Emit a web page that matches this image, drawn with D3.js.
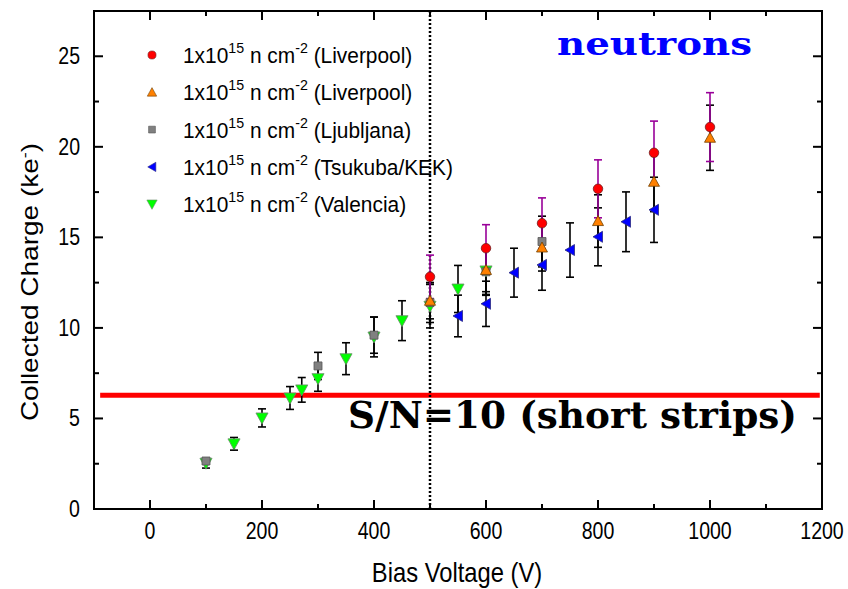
<!DOCTYPE html>
<html>
<head>
<meta charset="utf-8">
<script src="https://cdn.jsdelivr.net/npm/d3@7"></script>
<style>
  body { margin: 0; background: #fff; }
  svg { display: block; }
</style>
</head>
<body>
<div id="chart"></div>
<script>
// data
const livCircleV = [500, 600, 700, 800, 900, 1000]
const livCircleQ = [12.82, 14.4, 15.78, 17.68, 19.67, 21.09]
const livCircleE = [1.2, 1.3, 1.4, 1.6, 1.75, 1.9]

const livTriV = [500, 600, 700, 800, 900, 1000]
const livTriQ = [11.5, 13.2, 14.44, 15.9, 18.07, 20.5]
const livTriE = [1.0, 1.2, 1.3, 1.45, 1.65, 1.8]

const ljuV = [100, 300, 400, 500, 600, 700]
const ljuQ = [2.65, 7.9, 9.6, 11.4, 13.1, 14.77]
const ljuE = [0.15, 0.75, 1.0, 1.1, 1.3, 1.4]

const tsuV = [550, 600, 650, 700, 750, 800, 850, 900]
const tsuQ = [10.66, 11.33, 13.05, 13.48, 14.3, 15.03, 15.86, 16.52]
const tsuE = [1.15, 1.25, 1.35, 1.4, 1.5, 1.6, 1.65, 1.8]

const valV = [100, 150, 200, 250, 271, 300, 350, 400, 450, 500, 550, 600]
const valQ = [2.53, 3.6, 5.03, 6.13, 6.58, 7.2, 8.3, 9.5, 10.4, 11.2, 12.15, 13.15]
const valE = [0.27, 0.35, 0.5, 0.63, 0.68, 0.7, 0.88, 1.1, 1.1, 1.2, 1.3, 1.3]

const legendNames = ['Liverpool', 'Liverpool', 'Ljubljana', 'Tsukuba/KEK', 'Valencia']
const xTicks = [0, 200, 400, 600, 800, 1000, 1200]
const yTicks = [0, 5, 10, 15, 20, 25]
const snLevel = 6.28
const depletionV = 500

const W = 848, H = 589
const margin = { top: 11, right: 26, bottom: 80, left: 94 }
const wdt = W - margin.left - margin.right,
  ht = H - margin.top - margin.bottom

const x = d3.scaleLinear().domain([-100, 1200]).range([0, wdt])
const y = d3.scaleLinear().domain([0, 27.5]).range([ht, 0])

const svg = d3.select('#chart')
  .append('svg')
  .attr('width', W)
  .attr('height', H)

const g = svg.append('g')
  .attr('transform', `translate(${margin.left}, ${margin.top})`)

// marker shapes
function marker(shape, s) {
  if (shape === 'circle') return d3.symbol(d3.symbolCircle, Math.PI * s * s / 4)()
  if (shape === 'square') return `M${-s / 2},${-s / 2}h${s}v${s}h${-s}Z`
  if (shape === 'up') return `M0,${-s * 0.55}L${s * 0.55},${s * 0.45}L${-s * 0.55},${s * 0.45}Z`
  if (shape === 'down') return `M0,${s * 0.55}L${s * 0.55},${-s * 0.45}L${-s * 0.55},${-s * 0.45}Z`
  if (shape === 'left') return `M${-s * 0.5},0L${s * 0.45},${-s * 0.55}L${s * 0.45},${s * 0.55}Z`
}

const series = [
  { v: valV, q: valQ, e: valE, shape: 'down', fill: '#00ff00', stroke: '#6a8a6a', bar: '#000', size: 11 },
  { v: ljuV, q: ljuQ, e: ljuE, shape: 'square', fill: '#808080', stroke: '#555', bar: '#000', size: 8 },
  { v: tsuV, q: tsuQ, e: tsuE, shape: 'left', fill: '#0000ff', stroke: '#2a2a80', bar: '#000', size: 10 },
  { v: livTriV, q: livTriQ, e: livTriE, shape: 'up', fill: '#ff8000', stroke: '#704000', bar: '#000', size: 10 },
  { v: livCircleV, q: livCircleQ, e: livCircleE, shape: 'circle', fill: '#ff0000', stroke: '#702020', bar: '#990099', size: 9.5 }
]

// S/N = 10 line and depletion line
g.append('line')
  .attr('x1', x(-89)).attr('x2', x(1196))
  .attr('y1', y(snLevel)).attr('y2', y(snLevel))
  .attr('stroke', '#ff0000')
  .attr('stroke-width', 5)

g.append('line')
  .attr('x1', x(depletionV)).attr('x2', x(depletionV))
  .attr('y1', 0).attr('y2', ht)
  .attr('stroke', '#000')
  .attr('stroke-width', 2.5)
  .attr('stroke-dasharray', '2,2')

// error bars then markers
series.forEach(s => {
  const pts = s.v.map((v, i) => ({ v: v, q: s.q[i], e: s.e[i] }))
  const eb = g.append('g')
    .attr('stroke', s.bar)
    .attr('stroke-width', 1.6)
  eb.selectAll('.stem')
    .data(pts)
    .join('line')
    .attr('x1', d => x(d.v)).attr('x2', d => x(d.v))
    .attr('y1', d => y(d.q + d.e)).attr('y2', d => y(d.q - d.e))
  eb.selectAll('.cap')
    .data(pts.flatMap(d => [d.q + d.e, d.q - d.e].map(q => ({ v: d.v, q: q }))))
    .join('line')
    .attr('x1', d => x(d.v) - 4).attr('x2', d => x(d.v) + 4)
    .attr('y1', d => y(d.q)).attr('y2', d => y(d.q))
})

series.forEach(s => {
  g.append('g')
    .selectAll('path')
    .data(s.v.map((v, i) => ({ v: v, q: s.q[i] })))
    .join('path')
    .attr('transform', d => `translate(${x(d.v)},${y(d.q)})`)
    .attr('d', marker(s.shape, s.size))
    .attr('fill', s.fill)
    .attr('stroke', s.stroke)
    .attr('stroke-width', 0.8)
})

// axes: ticks inward, mirrored on top and right
const xMinor = d3.range(-100, 1201, 100).filter(v => !xTicks.includes(v))
const yMinor = d3.range(2.5, 27.5, 5)

const axG = g.append('g').attr('stroke', '#000').attr('stroke-width', 2)
axG.append('rect')
  .attr('x', 0).attr('y', 0).attr('width', wdt).attr('height', ht)
  .attr('fill', 'none')

xTicks.forEach(v => {
  axG.append('line').attr('x1', x(v)).attr('x2', x(v)).attr('y1', ht).attr('y2', ht - 9)
  axG.append('line').attr('x1', x(v)).attr('x2', x(v)).attr('y1', 0).attr('y2', 9)
})
xMinor.forEach(v => {
  axG.append('line').attr('x1', x(v)).attr('x2', x(v)).attr('y1', ht).attr('y2', ht - 5)
  axG.append('line').attr('x1', x(v)).attr('x2', x(v)).attr('y1', 0).attr('y2', 5)
})
yTicks.forEach(v => {
  axG.append('line').attr('x1', 0).attr('x2', 9).attr('y1', y(v)).attr('y2', y(v))
  axG.append('line').attr('x1', wdt).attr('x2', wdt - 9).attr('y1', y(v)).attr('y2', y(v))
})
yMinor.forEach(v => {
  axG.append('line').attr('x1', 0).attr('x2', 5).attr('y1', y(v)).attr('y2', y(v))
  axG.append('line').attr('x1', wdt).attr('x2', wdt - 5).attr('y1', y(v)).attr('y2', y(v))
})

const sans = 'Arial, "Liberation Sans", sans-serif'

// tick labels look tall and narrow in the original
g.selectAll('.xlab')
  .data(xTicks)
  .join('text')
  .attr('transform', d => `translate(${x(d)}, ${ht + 30}) scale(0.85, 1)`)
  .attr('text-anchor', 'middle')
  .attr('font-family', sans)
  .attr('font-size', 23)
  .text(d => d)

g.selectAll('.ylab')
  .data(yTicks)
  .join('text')
  .attr('transform', d => `translate(-14, ${y(d) + 8}) scale(0.85, 1)`)
  .attr('text-anchor', 'end')
  .attr('font-family', sans)
  .attr('font-size', 23)
  .text(d => d)

// axis titles
g.append('text')
  .attr('transform', `translate(${x(500) + 27}, ${ht + 73}) scale(0.88, 1)`)
  .attr('text-anchor', 'middle')
  .attr('font-family', sans)
  .attr('font-size', 27)
  .text('Bias Voltage (V)')

const yt = svg.append('text')
  .attr('transform', `translate(38, ${margin.top + ht / 2 + 22}) rotate(-90) scale(1, 0.85)`)
  .attr('text-anchor', 'middle')
  .attr('font-family', sans)
  .attr('font-size', 28)
yt.append('tspan').text('Collected Charge (ke')
yt.append('tspan').attr('dy', -10).attr('font-size', 18).text('-')
yt.append('tspan').attr('dy', 10).text(')')

// legend
const legOrder = [4, 3, 1, 2, 0]
const leg = svg.append('g')
legendNames.forEach((name, i) => {
  const s = series[legOrder[i]]
  const ly = 55 + i * 37.3
  leg.append('path')
    .attr('transform', `translate(152, ${ly})`)
    .attr('d', marker(s.shape, s.size * 0.85))
    .attr('fill', s.fill)
    .attr('stroke', s.stroke)
    .attr('stroke-width', 0.6)
  const t = leg.append('text')
    .attr('transform', `translate(183, ${ly + 8}) scale(0.95, 1)`)
    .attr('font-family', sans)
    .attr('font-size', 22)
  t.append('tspan').text('1x10')
  t.append('tspan').attr('dy', -10).attr('font-size', 15).text('15')
  t.append('tspan').attr('dy', 10).text(' n cm')
  t.append('tspan').attr('dy', -10).attr('font-size', 15).text('-2')
  t.append('tspan').attr('dy', 10).text(` (${name})`)
})

// annotations
svg.append('text')
  .attr('x', 557)
  .attr('y', 55)
  .attr('font-family', '"DejaVu Serif", "Liberation Serif", serif')
  .attr('font-weight', 'bold')
  .attr('font-size', 32)
  .attr('fill', '#0000ff')
  .attr('textLength', 195)
  .attr('lengthAdjust', 'spacingAndGlyphs')
  .text('neutrons')

svg.append('text')
  .attr('x', 348)
  .attr('y', 428)
  .attr('font-family', '"DejaVu Serif", "Liberation Serif", serif')
  .attr('font-weight', 'bold')
  .attr('font-size', 37)
  .attr('fill', '#000')
  .attr('textLength', 449)
  .attr('lengthAdjust', 'spacingAndGlyphs')
  .text('S/N=10 (short strips)')
</script>
</body>
</html>
